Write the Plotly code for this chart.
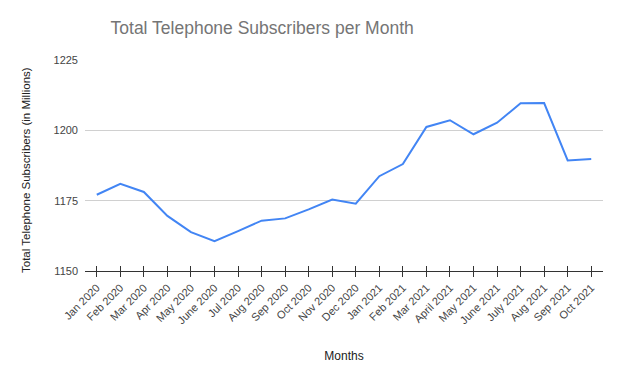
import plotly.graph_objects as go

months = ["Jan 2020", "Feb 2020", "Mar 2020", "Apr 2020", "May 2020", "June 2020",
          "Jul 2020", "Aug 2020", "Sep 2020", "Oct 2020", "Nov 2020", "Dec 2020",
          "Jan 2021", "Feb 2021", "Mar 2021", "April 2021", "May 2021", "June 2021",
          "July 2021", "Aug 2021", "Sep 2021", "Oct 2021"]
subscribers = [1177.1, 1181.0, 1178.1, 1169.6, 1163.8, 1160.6,
               1164.2, 1167.9, 1168.7, 1171.9, 1175.4, 1173.9,
               1183.7, 1188.0, 1201.2, 1203.6, 1198.6, 1202.7,
               1209.6, 1209.7, 1189.3, 1189.8]
y_ticks = [1150, 1175, 1200, 1225]

FONT = "Liberation Sans, Arial, sans-serif"
W, H = 620, 380
OFF = 8  # page offset of the figure

fig = go.Figure()
fig.add_trace(go.Scatter(x=months, y=subscribers, mode="lines",
                         line=dict(color="#4285F4", width=2), showlegend=False))
# invisible trace on overlay axis for inside tick marks
fig.add_trace(go.Scatter(x=months, y=subscribers, mode="lines", xaxis="x2",
                         line=dict(color="rgba(0,0,0,0)", width=0),
                         showlegend=False, hoverinfo="skip"))

fig.update_layout(
    width=W, height=H,
    margin=dict(l=85 - OFF, r=17 + OFF, t=60 - OFF, b=109 + OFF),
    paper_bgcolor="white", plot_bgcolor="white",
    font=dict(family=FONT, color="#222222"),
    title=dict(text="Total Telephone Subscribers per Month",
               x=0.342, xref="paper", xanchor="center",
               y=1 - (28 - OFF) / H, yref="container", yanchor="middle",
               font=dict(size=17.5, color="#757575", family=FONT)),
    xaxis=dict(type="category", tickangle=-45, showgrid=False,
               showline=True, linecolor="#333333", linewidth=1,
               ticks="outside", ticklen=5, tickcolor="#333333", tickwidth=1,
               tickfont=dict(size=11, color="#444444"),
               title=dict(text="Months", font=dict(size=12, color="#222222"), standoff=26),
               range=[-0.5, len(months) - 0.5]),
    xaxis2=dict(type="category", overlaying="x", side="bottom", showgrid=False,
                showline=False, ticks="inside", ticklen=5, tickcolor="#333333",
                tickwidth=1, showticklabels=False,
                range=[-0.5, len(months) - 0.5], matches="x"),
    yaxis=dict(range=[1150, 1225], tickvals=y_ticks, showgrid=True,
               gridcolor="#d0d0d0", gridwidth=1, zeroline=False,
               showline=False, ticks="", tickfont=dict(size=11, color="#444444"),
               ticklabelstandoff=6),
    annotations=[dict(text="Total Telephone Subscribers (in Millions)",
                      xref="paper", yref="paper",
                      x=(26 - 85) / 518, y=(271 - 170) / 211,
                      xanchor="center", yanchor="middle", textangle=-90,
                      showarrow=False, font=dict(size=11.5, color="#222222"))],
)

fig.write_html("out.html")
